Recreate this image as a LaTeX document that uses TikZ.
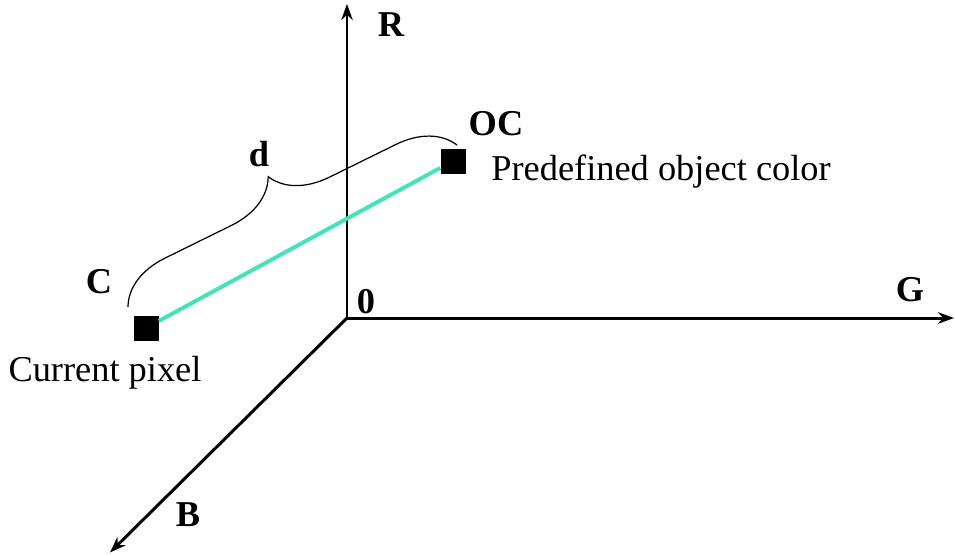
\documentclass[tikz,border=0pt]{standalone}
\usepackage{fontspec}
\setmainfont{Liberation Serif}
\usepackage{tikz}
\usetikzlibrary{arrows.meta, positioning, decorations.pathreplacing}

\definecolor{distcyan}{RGB}{72,226,186}

\begin{document}
\begin{tikzpicture}[
  >={Stealth[length=3.2mm, width=2.3mm]},
  font=\fontsize{20.7}{24}\selectfont,
  % Colour axes
  axis/.style={->, line width=1.7pt, draw=black},
  % Distance between the two colours
  dist/.style={line width=2.3pt, draw=distcyan},
  % Curly brace over the distance
  dbrace/.style={decorate, decoration={brace, amplitude=1.1cm}, line width=0.7pt},
  % Colour points
  pix/.style={rectangle, fill=black, minimum size=0.5cm, inner sep=0pt},
  % Labels
  axlbl/.style={font=\fontsize{20.7}{24}\selectfont\bfseries, inner sep=0pt},
  txtlbl/.style={font=\fontsize{20.7}{24}\selectfont, inner sep=0pt}
]
\useasboundingbox (0,0) rectangle (19.1,-11.1);

%% Axes
\coordinate (O)    at (6.94,-6.36);
\coordinate (Rend) at (6.94,-0.08);
\coordinate (Gend) at (19.08,-6.36);
\coordinate (Bend) at (2.2,-11.05);

\draw[axis] (O) -- (Rend);
\draw[axis] (O) -- (Gend);
\draw[axis] (O) -- (Bend);

\node[axlbl] (rlbl) at (7.82,-0.5)  {R};
\node[axlbl] (glbl) at (18.2,-5.8)  {G};
\node[axlbl] (blbl) at (3.76,-10.3) {B};
\node[axlbl] (olbl) at (7.32,-6.04) {0};

%% Colour points
\node[pix] (cpix) at (2.92,-6.56) {};
\node[pix] (ocol) at (9.06,-3.22) {};

\draw[dist] (cpix) -- (ocol);

\node[axlbl] (clbl)  at (1.98,-5.64) {C};
\node[axlbl] (oclbl) at (9.92,-2.48) {OC};
\node[txtlbl, anchor=base] (cur) at (2.1,-7.62) {Current pixel};
\node[txtlbl, anchor=base west] (pre) at (9.82,-3.6) {Predefined object color};

%% Brace with distance label
\coordinate (bl) at (2.56,-6.14);
\coordinate (br) at (9.14,-2.9);
\draw[dbrace] (bl) -- (br);
\node[axlbl] (dlbl) at (5.18,-3.08) {d};

\end{tikzpicture}
\end{document}
